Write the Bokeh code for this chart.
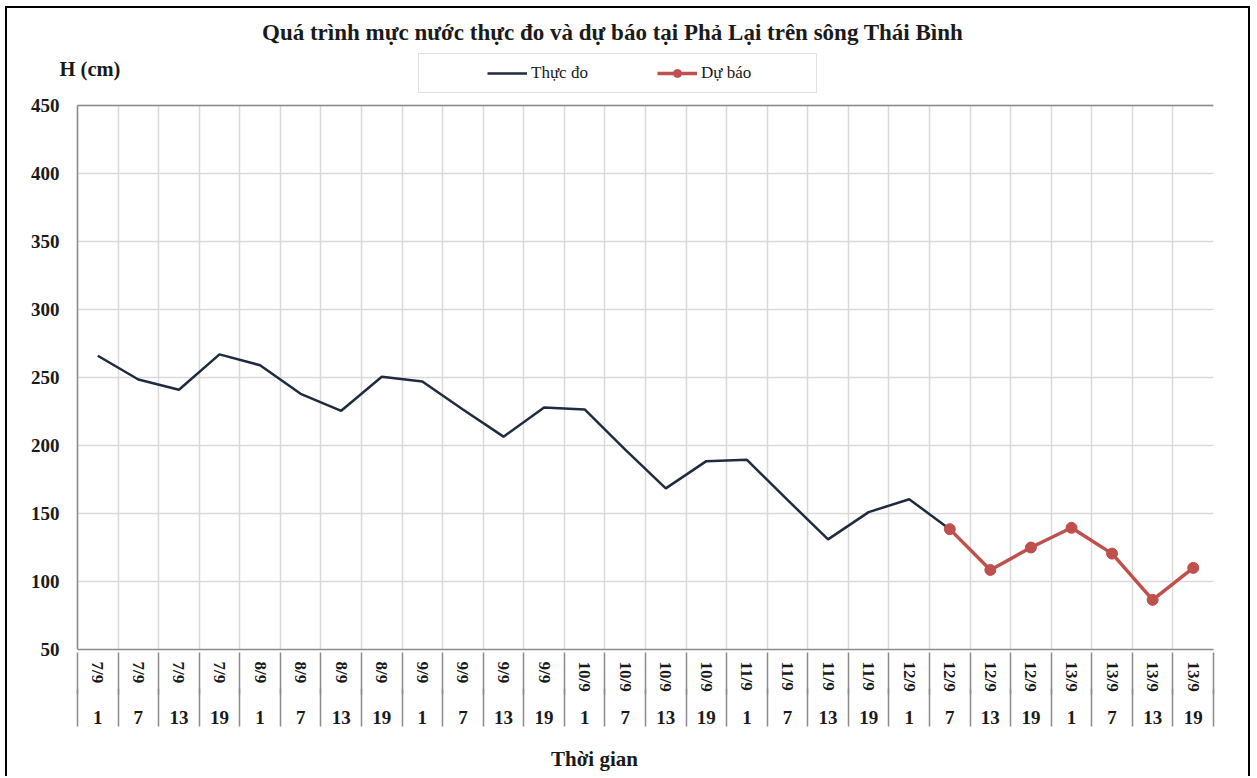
from bokeh.plotting import figure
from bokeh.models import (Range1d, LinearAxis, FixedTicker, Legend, LegendItem,
                          Label, Grid, ColumnDataSource)
from bokeh.embed import file_html
from bokeh.resources import INLINE

# ---------------- data ----------------
dates = ["7/9", "7/9", "7/9", "7/9", "8/9", "8/9", "8/9", "8/9",
         "9/9", "9/9", "9/9", "9/9", "10/9", "10/9", "10/9", "10/9",
         "11/9", "11/9", "11/9", "11/9", "12/9", "12/9", "12/9", "12/9",
         "13/9", "13/9", "13/9", "13/9"]
hours = ["1", "7", "13", "19", "1", "7", "13", "19",
         "1", "7", "13", "19", "1", "7", "13", "19",
         "1", "7", "13", "19", "1", "7", "13", "19",
         "1", "7", "13", "19"]
observed = [266, 248.5, 241, 267, 259, 238, 225.5, 250.5,
            247, 226.5, 206.5, 228, 226.5, 197, 168.5, 188.5,
            189.5, 160, 131, 151, 160.5, 138.5]
forecast = [138.5, 108.5, 125, 139.5, 120.5, 86.5, 110]
y_ticks = [50, 100, 150, 200, 250, 300, 350, 400, 450]
y_min, y_max = 50, 450

title_text = "Quá trình  mực nước thực đo và dự báo tại Phả Lại trên sông Thái Bình"
y_title = "H (cm)"
x_title = "Thời gian"

SERIF = "Liberation Serif"
TXT = "#1a1a1a"
GRAY = "#8c8c8c"
LIGHT = "#d9d9d9"

n = len(dates)
centers = [i + 0.5 for i in range(n)]
bounds = [float(i) for i in range(n + 1)]
fc_start = n - len(forecast)

obs_src = ColumnDataSource(dict(x=centers[:len(observed)], y=observed))
fc_src = ColumnDataSource(dict(x=centers[fc_start:], y=forecast))

# ---------------- layout (page px) ----------------
OX, OY = 7, 8                  # canvas origin inside the chart border
W, H = 1245, 770
FRAME_L, FRAME_T, FRAME_B = 59, 8, 649   # drawing frame (page px)
PLOT_L, PLOT_R, PLOT_T = 77, 1213, 105   # visible plot box (page px)

px_x = (PLOT_R - PLOT_L) / n
px_y = (FRAME_B - PLOT_T) / (y_max - y_min)
x_start = -(PLOT_L - FRAME_L) / px_x
y_end = y_max + (PLOT_T - FRAME_T) / px_y

p = figure(width=W, height=H, output_backend="svg", toolbar_location=None,
           x_range=Range1d(x_start, n), y_range=Range1d(y_min, y_end),
           x_axis_location=None,
           min_border_left=FRAME_L - OX, min_border_right=(OX + W) - PLOT_R,
           min_border_top=FRAME_T - OY, min_border_bottom=(OY + H) - FRAME_B)
p.styles = {"margin-left": "5px", "margin-top": "6px",
            "border-left": "2px solid black", "border-top": "2px solid black",
            "border-right": "2px solid black"}
p.background_fill_color = "white"
p.border_fill_color = "white"
p.outline_line_color = None

# y axis: labels end just left of the plot box
yax = p.yaxis[0]
yax.bounds = (y_min, y_max)
yax.ticker = FixedTicker(ticks=y_ticks, minor_ticks=[])
yax.major_tick_line_color = None
yax.minor_tick_line_color = None
yax.major_tick_out = 0
yax.axis_line_color = None
yax.major_label_text_font = SERIF
yax.major_label_text_font_style = "bold"
yax.major_label_text_font_size = "19px"
yax.major_label_text_color = TXT
yax.major_label_standoff = 0

# grids (restricted to the plot box)
p.ygrid.ticker = FixedTicker(ticks=y_ticks)
p.ygrid.bounds = (y_min, y_max)
p.ygrid.cross_bounds = (0, n)
p.ygrid.grid_line_color = LIGHT
p.ygrid.grid_line_width = 1.5
p.xgrid.ticker = FixedTicker(ticks=bounds)
p.xgrid.bounds = (0, n)
p.xgrid.cross_bounds = (y_min, y_max)
p.xgrid.grid_line_color = LIGHT
p.xgrid.grid_line_width = 1.5
# edges of the plot box
p.add_layout(Grid(dimension=1, ticker=FixedTicker(ticks=[y_max]),
                  bounds=(y_min, y_max), cross_bounds=(0, n),
                  grid_line_color=GRAY, grid_line_width=1.5))
p.add_layout(Grid(dimension=0, ticker=FixedTicker(ticks=[0.0, float(n)]),
                  bounds=(0, n), cross_bounds=(y_min, y_max),
                  grid_line_color=GRAY, grid_line_width=1.5))

# x axes: dates (rotated), hours, and a label-less axis closing the separators
date_axis = LinearAxis(ticker=FixedTicker(ticks=centers, minor_ticks=[]),
                       major_label_overrides={c: d for c, d in zip(centers, dates)},
                       major_label_orientation="vertical", bounds=(0, n))
date_axis.major_tick_line_color = None
date_axis.minor_tick_line_color = None
date_axis.major_tick_out = 0
date_axis.major_tick_in = 0
date_axis.minor_tick_out = 0
date_axis.minor_tick_in = 0
date_axis.axis_line_color = GRAY
date_axis.axis_line_width = 1.5
date_axis.major_label_standoff = 12
date_axis.major_label_text_font = SERIF
date_axis.major_label_text_font_style = "bold"
date_axis.major_label_text_font_size = "17px"
date_axis.major_label_text_color = TXT
p.add_layout(date_axis, "below")

hour_axis = LinearAxis(ticker=FixedTicker(ticks=centers, minor_ticks=bounds),
                       major_label_overrides={c: h for c, h in zip(centers, hours)},
                       bounds=(0, n))
hour_axis.major_tick_line_color = None
hour_axis.major_tick_out = 0
hour_axis.major_tick_in = 0
hour_axis.minor_tick_out = 0
hour_axis.minor_tick_in = 42
hour_axis.minor_tick_line_color = GRAY
hour_axis.minor_tick_line_width = 1.5
hour_axis.axis_line_color = None
hour_axis.major_label_standoff = 16
hour_axis.major_label_text_font = SERIF
hour_axis.major_label_text_font_style = "bold"
hour_axis.major_label_text_font_size = "19px"
hour_axis.major_label_text_color = TXT
p.add_layout(hour_axis, "below")

# label-less axis: closes the separators and carries the x title
# (trailing no-break spaces move the centred title left, as in the reference)
sep_axis = LinearAxis(ticker=FixedTicker(ticks=[], minor_ticks=bounds), bounds=(0, n),
                      axis_label=x_title + "\u00a0" * 16)
sep_axis.major_tick_line_color = None
sep_axis.major_label_text_font_size = "0px"
sep_axis.minor_tick_out = 0
sep_axis.minor_tick_in = 38
sep_axis.minor_tick_line_color = GRAY
sep_axis.minor_tick_line_width = 1.5
sep_axis.axis_line_color = None
sep_axis.major_label_standoff = 0
sep_axis.axis_label_standoff = 20
sep_axis.axis_label_text_font = SERIF
sep_axis.axis_label_text_font_style = "bold"
sep_axis.axis_label_text_font_size = "21px"
sep_axis.axis_label_text_color = TXT
p.add_layout(sep_axis, "below")

# series
r_obs = p.line("x", "y", source=obs_src, line_color="#1F2B3E", line_width=2.5)
r_fc_line = p.line("x", "y", source=fc_src, line_color="#C0504D", line_width=3.5)
r_fc_pts = p.scatter("x", "y", source=fc_src, marker="circle", size=11,
                     fill_color="#C0504D", line_color="#C0504D")

# helpers: page px -> frame-relative screen units
def sx(x):
    return x - FRAME_L
def sy(y):
    return FRAME_B - y

legend = Legend(items=[LegendItem(label="Thực đo", renderers=[r_obs]),
                       LegendItem(label="Dự báo", renderers=[r_fc_line, r_fc_pts])],
                orientation="horizontal", location=(sx(418), sy(93)))
legend.title = " "
legend.title_location = "left"
legend.title_standoff = 39
legend.title_text_font_size = "17px"
legend.margin = 0
legend.padding = 9
legend.glyph_width = 40
legend.glyph_height = 20
legend.label_standoff = 4
legend.label_width = 106
legend.spacing = 20
legend.label_text_font = SERIF
legend.label_text_font_size = "17px"
legend.label_text_color = TXT
legend.border_line_color = "#c4c4c4"
legend.border_line_width = 1.5
legend.background_fill_color = "white"
legend.background_fill_alpha = 1
p.add_layout(legend, "center")

p.add_layout(Label(x=sx(615), y=sy(32), x_units="screen", y_units="screen",
                   text=title_text, text_align="center", text_baseline="middle",
                   text_font=SERIF, text_font_style="bold", text_font_size="23px",
                   text_color=TXT))
p.add_layout(Label(x=sx(59), y=sy(68), x_units="screen", y_units="screen",
                   text=y_title, text_align="left", text_baseline="middle",
                   text_font=SERIF, text_font_style="bold", text_font_size="20.5px",
                   text_color=TXT))

open("out.html", "w").write(file_html(p, INLINE))
